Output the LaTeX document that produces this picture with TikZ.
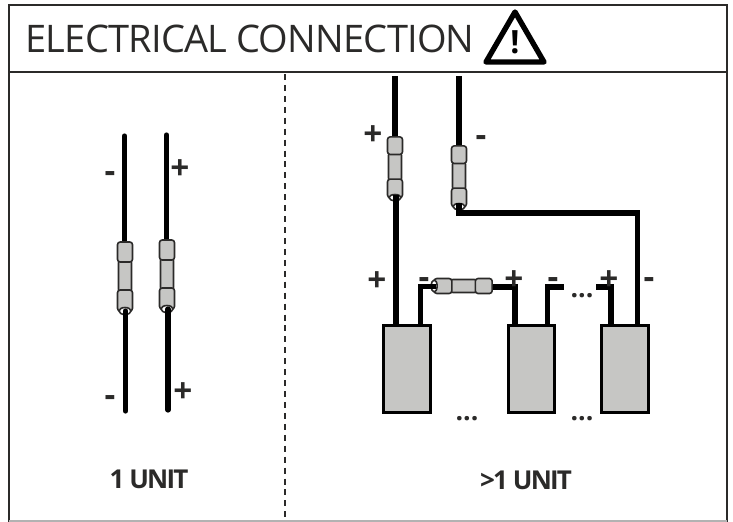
\documentclass[tikz,border=0pt]{standalone}
\usepackage{fontspec}
\setmainfont{Open Sans}
\definecolor{framegray}{HTML}{2B2A29}
\definecolor{boxgray}{HTML}{C6C6C4}
\tikzset{
  wire/.style={line width=3.9pt, line cap=butt, line join=miter},
  endwire/.style={wire, line cap=round},
  frameline/.style={framegray, line width=2.2pt},
  unitbox/.style={draw, fill=boxgray, line width=2.3pt, minimum width=35pt, minimum height=65pt, inner sep=0pt},
  sign/.style={font=\fontsize{25}{25}\selectfont\bfseries, text=framegray, inner sep=0pt},
  dots/.style={font=\fontsize{20}{20}\selectfont\bfseries, text=framegray, inner sep=0pt},
  unitlabel/.style={font=\fontsize{19.5}{20}\selectfont\bfseries\addfontfeatures{LetterSpace=-7}, text=framegray, inner sep=0pt},
  sleeve/.style={draw=framegray, fill=boxgray, line width=1.2pt, rounded corners=2pt},
  splice/.pic={
    \draw[sleeve] (-6.5,19) rectangle (6.5,51);
    \draw[sleeve] (-7.5,1) rectangle (7.5,21);
    \draw[sleeve] (-7.5,49) rectangle (7.5,70);
    \draw[draw=framegray, fill=white, line width=1.2pt] (0,70) ellipse (6 and 3.5);
  }
}
\begin{document}
\begin{tikzpicture}[x=0.75pt, y=-0.75pt]
  \useasboundingbox (0,0) rectangle (733,522);

  % Frame
  \coordinate (tl) at (9,5);
  \coordinate (tr) at (727,5);
  \coordinate (bl) at (9,522);
  \coordinate (br) at (727,522);
  \coordinate (hl) at (9,72);
  \coordinate (hr) at (727,72);
  \coordinate (dt) at (285,74);
  \coordinate (db) at (285,522);
  \draw[frameline] (bl) -- (tl) -- (tr) -- (br);
  \draw[frameline] (hl) -- (hr);
  \draw[gray!60, line width=0.8pt] (9,521) -- (727,521);
  \draw[framegray, line width=1.9pt, dash pattern=on 4.5pt off 3.7pt] (dt) -- (db);

  % Title
  \node[anchor=west, inner sep=0pt, text=framegray, font=\fontsize{28.5}{29}\selectfont\addfontfeatures{LetterSpace=-2}] (title) at (25,39) {ELECTRICAL CONNECTION};
  \coordinate (w1) at (515,12);
  \coordinate (w2) at (544,62);
  \coordinate (w3) at (486,62);
  \draw[line width=4pt, line join=round] (w1) -- (w2) -- (w3) -- cycle;
  \node[font=\fontsize{24}{24}\selectfont\bfseries, inner sep=0pt] (warn) at (515,42) {!};

  % 1 unit
  \coordinate (a1) at (124.5,136);
  \coordinate (a2) at (124.5,243);
  \coordinate (a3) at (125.5,311);
  \coordinate (a4) at (125.5,411);
  \coordinate (b1) at (166.5,135);
  \coordinate (b2) at (166.5,241);
  \coordinate (b3) at (168,309);
  \coordinate (b4) at (168,410);
  \draw[endwire] (a1) -- (a2);
  \draw[endwire] (b1) -- (b2);
  \pic at (125,241) {splice};
  \pic at (167,239) {splice};
  \draw[endwire] (a3) -- (a4);
  \draw[endwire] (b3) -- (b4);
  \node[sign] (am) at (110,177) {-};
  \node[sign] (bp) at (180,170) {+};
  \node[sign] (am2) at (110,401) {-};
  \node[sign] (bp2) at (183,393) {+};
  \node[unitlabel] (one) at (149,479) {1 UNIT};

  % >1 unit, boxes
  \node[unitbox] (U1) at (407,369) {};
  \node[unitbox] (U2) at (531.5,369) {};
  \node[unitbox] (U3) at (625,369) {};

  % Wires to the supply
  \coordinate (p1) at (395,76);
  \coordinate (p2) at (395,140);
  \coordinate (p3) at (396,195);
  \coordinate (p4) at (396,325);
  \coordinate (n1) at (459,76);
  \coordinate (n2) at (459,150);
  \coordinate (n3) at (459,203);
  \coordinate (n4) at (459,213);
  \coordinate (n5) at (637.5,213);
  \coordinate (n6) at (637.5,325);
  \draw[wire] (p1) -- (p2);
  \draw[wire] (n1) -- (n2);
  \pic[yscale=.88] at (395,136) {splice};
  \pic[yscale=.88] at (459,145) {splice};
  \draw[wire] (p3) -- (p4);
  \draw[wire] (n3) -- (n4) -- (n5) -- (n6);

  % Wires between the units
  \coordinate (c1) at (420.5,325);
  \coordinate (c2) at (420.5,286.5);
  \coordinate (c3) at (436,286.5);
  \coordinate (c4) at (490,287);
  \coordinate (c5) at (515,287);
  \coordinate (c6) at (515,325);
  \coordinate (d1) at (547.5,325);
  \coordinate (d2) at (547.5,287);
  \coordinate (d3) at (564,287);
  \coordinate (e1) at (596,287);
  \coordinate (e2) at (611,287);
  \coordinate (e3) at (611,325);
  \draw[wire] (c4) -- (c5) -- (c6);
  \pic[rotate=-90, yscale=.84] at (493,286) {splice};
  \draw[wire] (c1) -- (c2) -- (c3);
  \draw[wire] (d1) -- (d2) -- (d3);
  \draw[wire] (e1) -- (e2) -- (e3);

  % Signs
  \node[sign] (s1) at (373,136) {+};
  \node[sign] (s2) at (481,141) {-};
  \node[sign] (s3) at (377,282) {+};
  \node[sign] (s4) at (424,283) {-};
  \node[sign] (s5) at (514,281) {+};
  \node[sign] (s6) at (553,283) {-};
  \node[sign] (s7) at (609,281) {+};
  \node[sign] (s8) at (649,283) {-};
  \node[dots] (d) at (582,296) {...};
  \node[dots] (dd) at (467,419) {...};
  \node[dots] (ddd) at (582,419) {...};
  \node[unitlabel] (many) at (526,480) {>1 UNIT};
\end{tikzpicture}
\end{document}
